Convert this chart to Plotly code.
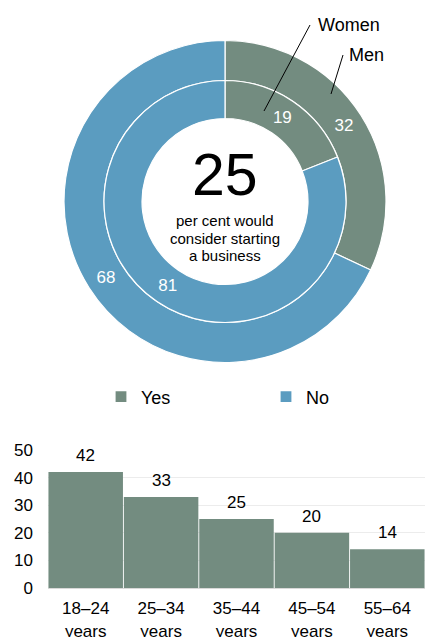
import plotly.graph_objects as go

# Data
answer_labels = ["Yes", "No"]
men_values = [32, 68]
women_values = [19, 81]
headline_value = 25
headline_caption = ["per cent would", "consider starting", "a business"]
ring_names = ["Women", "Men"]
age_groups = ["18–24<br>years", "25–34<br>years", "35–44<br>years", "45–54<br>years", "55–64<br>years"]
age_yes = [42, 33, 25, 20, 14]
y_ticks = [0, 10, 20, 30, 40, 50]

GREEN = "#738c80"
BLUE = "#5b9cc0"
FONT = "Arial, Liberation Sans, sans-serif"
W, H = 425, 637

def px_x(x):
    return x / W

def px_y(y):
    return 1 - y / H

fig = go.Figure()

# Outer ring (Men)
cx, cy = 225, 201.5
r_out, r_mid, r_in = 161, 121, 83
fig.add_trace(go.Pie(
    labels=answer_labels, values=men_values, sort=False, direction="clockwise",
    rotation=0, hole=r_mid / r_out,
    domain=dict(x=[px_x(cx - r_out), px_x(cx + r_out)], y=[px_y(cy + r_out), px_y(cy - r_out)]),
    marker=dict(colors=[GREEN, BLUE], line=dict(color="white", width=1.2)),
    textinfo="value", textposition="inside", insidetextorientation="horizontal",
    textfont=dict(color="white", size=17, family=FONT),
    hoverinfo="label+value", showlegend=True, name="Men",
))
# Inner ring (Women)
fig.add_trace(go.Pie(
    labels=answer_labels, values=women_values, sort=False, direction="clockwise",
    rotation=0, hole=r_in / r_mid,
    domain=dict(x=[px_x(cx - r_mid), px_x(cx + r_mid)], y=[px_y(cy + r_mid), px_y(cy - r_mid)]),
    marker=dict(colors=[GREEN, BLUE], line=dict(color="white", width=1.2)),
    textinfo="value", textposition="inside", insidetextorientation="horizontal",
    textfont=dict(color="white", size=17, family=FONT),
    hoverinfo="label+value", showlegend=False, name="Women",
))

# Bar chart
fig.add_trace(go.Bar(
    x=age_groups, y=age_yes, marker=dict(color=GREEN, line=dict(width=0)),
    showlegend=False, xaxis="x", yaxis="y", hoverinfo="x+y",
))
for g, v in zip(age_groups, age_yes):
    fig.add_annotation(x=g, y=v, xref="x", yref="y", text=str(v), showarrow=False,
                       yanchor="bottom", yshift=5, font=dict(size=17, family=FONT, color="black"))

fig.update_layout(
    width=W, height=H, margin=dict(l=0, r=0, t=0, b=0, autoexpand=False),
    paper_bgcolor="white", plot_bgcolor="white",
    font=dict(family=FONT, size=17, color="black"),
    bargap=0.012,
    xaxis=dict(domain=[px_x(48), 1], showgrid=False, showline=True, linecolor="#d9d9d9",
               linewidth=1, ticks="", tickfont=dict(size=17), fixedrange=True,
               automargin=False, ticklabelstandoff=5),
    yaxis=dict(domain=[px_y(588), px_y(450)], range=[0, 50], tickvals=y_ticks,
               showgrid=True, gridcolor="#ececec", gridwidth=1, zeroline=False,
               ticks="", tickfont=dict(size=17), fixedrange=True,
               automargin=False, ticklabelstandoff=14),
    legend=dict(orientation="h", x=px_x(101), xanchor="left", y=px_y(397), yanchor="middle",
                entrywidth=120, entrywidthmode="pixels", itemwidth=30,
                font=dict(size=18, family=FONT), bgcolor="rgba(0,0,0,0)"),
    showlegend=True,
)

# Centre text
fig.add_annotation(x=px_x(cx), y=px_y(175), xref="paper", yref="paper", text=str(headline_value),
                   showarrow=False, font=dict(size=59, family=FONT, color="black"),
                   xanchor="center", yanchor="middle")
for i, line in enumerate(headline_caption):
    fig.add_annotation(x=px_x(cx), y=px_y(220 + 18 * i), xref="paper", yref="paper", text=line,
                       showarrow=False, font=dict(size=15, family=FONT, color="black"),
                       xanchor="center", yanchor="middle")

# Ring name callouts
fig.add_shape(type="line", xref="paper", yref="paper",
              x0=px_x(310), y0=px_y(25), x1=px_x(264), y1=px_y(111),
              line=dict(color="black", width=1))
fig.add_shape(type="line", xref="paper", yref="paper",
              x0=px_x(343), y0=px_y(55), x1=px_x(331), y1=px_y(94),
              line=dict(color="black", width=1))
fig.add_annotation(x=px_x(316), y=px_y(25), xref="paper", yref="paper", text=ring_names[0],
                   showarrow=False, font=dict(size=18, family=FONT), xanchor="left", yanchor="middle")
fig.add_annotation(x=px_x(347), y=px_y(55), xref="paper", yref="paper", text=ring_names[1],
                   showarrow=False, font=dict(size=18, family=FONT), xanchor="left", yanchor="middle")

fig.write_html("out.html")
